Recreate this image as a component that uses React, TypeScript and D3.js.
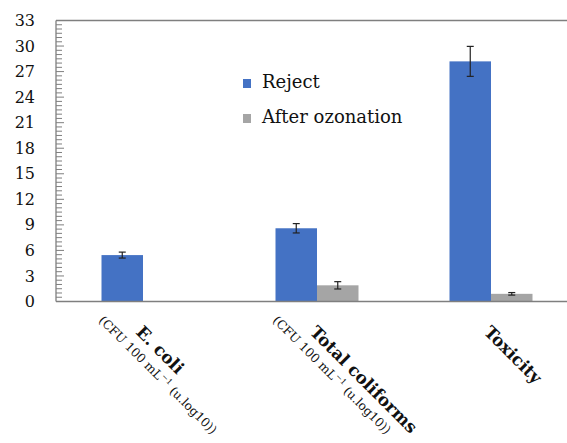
import React from "react";
import * as d3 from "d3";

// Categories and series
const categories = ["E. coli", "Total coliforms", "Toxicity"];
const unitLines = [true, true, false]; // whether the category carries the CFU unit line
const seriesNames = ["Reject", "After ozonation"];
const rejectValues = [5.45, 8.6, 28.2];
const rejectErrors = [0.35, 0.55, 1.76];
const ozonatedValues = [0, 1.9, 0.9];
const ozonatedErrors = [0, 0.43, 0.15];
const yTicks = [0, 3, 6, 9, 12, 15, 18, 21, 24, 27, 30, 33];

const W = 567;
const H = 443;
const margin = { left: 56, top: 20.5, bottom: 301.5 };
const plotRight = 578;
const colors = ["#4472C4", "#A5A5A5"];
const axisColor = "#7f7f7f";
const serif = "'DejaVu Serif', serif";

export default function App() {
  const x = d3.scaleBand<string>().domain(categories).range([margin.left, plotRight]).padding(0);
  const y = d3.scaleLinear().domain([0, 33]).range([margin.bottom, margin.top]);
  const barW = 41.5;

  const minorTicks = d3.range(0, 33.01, 0.5);
  const series = [
    { values: rejectValues, errors: rejectErrors },
    { values: ozonatedValues, errors: ozonatedErrors },
  ];

  return (
    <svg
      width={W}
      height={H}
      style={{ position: "fixed", left: 0, top: 0, background: "#fff" }}
      fontFamily={serif}
    >
      {/* bars */}
      {series.map((s, si) =>
        categories.map((c, i) => {
          const v = s.values[i];
          if (v <= 0) return null;
          const cx = (x(c) as number) + x.bandwidth() / 2;
          const x0 = cx - barW + si * barW;
          return (
            <rect
              key={`${si}-${i}`}
              x={x0}
              y={y(v)}
              width={barW}
              height={y(0) - y(v)}
              fill={colors[si]}
            />
          );
        })
      )}
      {/* error bars */}
      {series.map((s, si) =>
        categories.map((c, i) => {
          const v = s.values[i];
          const e = s.errors[i];
          if (v <= 0 || e <= 0) return null;
          const cx = (x(c) as number) + x.bandwidth() / 2;
          const mx = cx - barW / 2 + si * barW;
          return (
            <g key={`e${si}-${i}`} stroke="#222" strokeWidth={1.2}>
              <line x1={mx} x2={mx} y1={y(v + e)} y2={y(v - e)} />
              <line x1={mx - 3.5} x2={mx + 3.5} y1={y(v + e)} y2={y(v + e)} />
              <line x1={mx - 3.5} x2={mx + 3.5} y1={y(v - e)} y2={y(v - e)} />
            </g>
          );
        })
      )}
      {/* frame lines */}
      <line x1={margin.left} x2={plotRight} y1={y(33)} y2={y(33)} stroke={axisColor} strokeWidth={1.3} />
      <line x1={margin.left} x2={plotRight} y1={y(0)} y2={y(0)} stroke={axisColor} strokeWidth={1.3} />
      <line x1={margin.left} x2={margin.left} y1={y(33)} y2={y(0)} stroke={axisColor} strokeWidth={1.3} />
      {/* inward ticks */}
      {minorTicks.map((t) => (
        <line
          key={`t${t}`}
          x1={margin.left}
          x2={margin.left + (t % 3 === 0 ? 8 : 6)}
          y1={y(t)}
          y2={y(t)}
          stroke={axisColor}
          strokeWidth={1}
        />
      ))}
      {/* y tick labels */}
      {yTicks.map((t) => (
        <text key={`l${t}`} x={35} y={y(t)} dy="0.35em" textAnchor="end" fontSize={16} fill="#111">
          {t}
        </text>
      ))}
      {/* category labels, rotated 45° */}
      {categories.map((c, i) => {
        const cx = (x(c) as number) + x.bandwidth() / 2;
        return (
          <g key={`c${i}`} fill="#111">
            <g transform={`translate(${cx - 8},${333}) rotate(45)`}>
              <text fontWeight="bold" fontSize={17}>
                {c}
              </text>
            </g>
            {unitLines[i] && (
              <g transform={`translate(${cx - 45},${321}) rotate(45)`}>
                <text fontSize={12.3}>
                  (CFU 100 mL
                  <tspan dy={-5} fontSize={8}>
                    −1
                  </tspan>
                  <tspan dy={5}> (u.log10))</tspan>
                </text>
              </g>
            )}
          </g>
        );
      })}
      {/* legend */}
      {seriesNames.map((n, i) => (
        <g key={`lg${i}`} transform={`translate(243,${79 + i * 35})`}>
          <rect x={0} y={0} width={8} height={9} fill={colors[i]} />
          <text x={19} y={9} fontSize={18} fill="#111">
            {n}
          </text>
        </g>
      ))}
    </svg>
  );
}
